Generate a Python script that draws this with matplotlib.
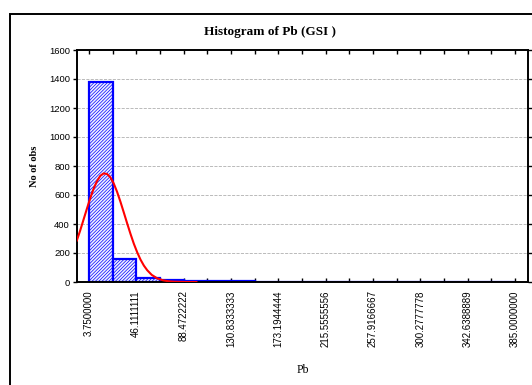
import numpy as np
import matplotlib
matplotlib.use("Agg")
import matplotlib.pyplot as plt
from matplotlib.patches import Rectangle

# -- data --
bin_start = 3.75
bin_width = 21.180556
counts = [1376, 158, 28, 12, 8, 5, 4, 3, 0, 0, 0, 0, 0, 1, 0, 0, 0, 1]
tick_values = [3.75, 46.1111111, 88.4722222, 130.8333333, 173.1944444,
               215.5555556, 257.9166667, 300.2777778, 342.6388889, 385.0]
# expected normal curve
curve_x = [-7, -4, -1, 2, 5, 8, 11, 14, 17, 20, 23, 26, 29, 32, 35, 38, 41,
           44, 47, 50, 53, 56, 60, 65, 70, 75, 80, 90, 100]
curve_y = [286, 355, 430, 505, 578, 643, 695, 732, 749, 745, 722, 680, 622,
           554, 480, 405, 332, 264, 205, 154, 113, 81, 49, 25, 12, 5, 2, 0, 0]

plt.rcParams['hatch.linewidth'] = 0.5
sans = ['Liberation Sans', 'DejaVu Sans']
serif = ['Liberation Serif', 'DejaVu Serif']

fig = plt.figure(figsize=(5.32, 3.85), dpi=100)
ax = fig.add_axes([77/532, 1-282/385, (528-77)/532, (282-50)/385])

# outer frame
fig.patches.append(Rectangle((10/532, -0.05), 1.0, 1-14/385+0.05, transform=fig.transFigure,
                             fill=False, edgecolor='black', linewidth=1.4))

edges = bin_start + bin_width*np.arange(len(counts))
ax.bar(edges, counts, width=bin_width, align='edge', color='#eef0ff',
       edgecolor='blue', hatch='/'*10, linewidth=1.6, zorder=2)
ax.plot(curve_x, curve_y, color='red', linewidth=1.5, zorder=3)

ax.set_xlim(bin_start - bin_width/2, 385 + bin_width/2 + 1)
ax.set_ylim(0, 1600)
ax.set_yticks(range(0, 1601, 200))
ax.set_xticks(tick_values)
ax.set_xticks(edges[1::2], minor=True)
ax.set_xticklabels([f"{v:.7f}" for v in tick_values], rotation=90, family=sans, fontsize=7)
ax.set_yticklabels([str(v) for v in range(0, 1601, 200)], family=sans, fontsize=6.8)
ax.tick_params(axis='x', which='both', direction='in', top=True, length=3, width=1, pad=6)
ax.tick_params(axis='y', direction='out', right=True, length=3, width=1, pad=2)

ax.grid(axis='y', linestyle='--', color='#b0b0b0', linewidth=0.6, zorder=0)
ax.set_axisbelow(True)
for s in ax.spines.values():
    s.set_linewidth(1.4)

ax.set_ylabel('No of obs', family=serif, fontweight='bold', fontsize=7.5, labelpad=7)
ax.set_xlabel('Pb', family=serif, fontsize=8.5, labelpad=12)
fig.text(270/532, 1-32/385, 'Histogram of Pb (GSI )', family=serif, fontweight='bold',
         fontsize=9.5, ha='center', va='center')

fig.savefig('out.png', dpi=100)
